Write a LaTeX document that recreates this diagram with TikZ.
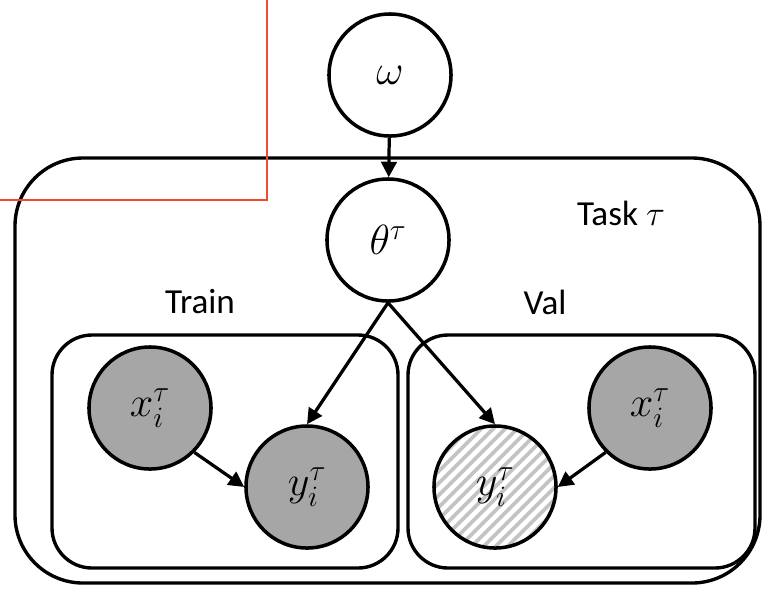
\RequirePackage{fix-cm}
\documentclass[tikz,border=0pt]{standalone}
\usepackage{fontspec}
\setmainfont{Carlito}
\usetikzlibrary{arrows.meta}
\definecolor{obsgray}{HTML}{A6A6A6}
\definecolor{hatchgray}{HTML}{C4C4C4}
\definecolor{markred}{RGB}{240,75,45}
\begin{document}
\begin{tikzpicture}[x=0.025cm,y=-0.025cm,
  var/.style={circle,draw,line width=2.5pt,minimum size=3.05cm,inner sep=0pt,
              font=\fontsize{30}{34}\selectfont},
  obs/.style={var,fill=obsgray},
  plate/.style={draw,line width=2.4pt},
  edge/.style={line width=2.3pt,-{Triangle[length=11pt,width=11pt]}},
  lbl/.style={font=\fontsize{25}{30}\selectfont}]
\useasboundingbox (0,0) rectangle (762,588);

% plates
\draw[plate,rounded corners=1.7cm] (15,158) rectangle (760,583);
\draw[plate,rounded corners=1cm] (52,335) rectangle (398,568);
\draw[plate,rounded corners=1cm] (408,335) rectangle (755,568);

% plate labels
\node[lbl] (ltask)  at (621,213) {Task $\tau$};
\node[lbl] (ltrain) at (200,302) {Train};
\node[lbl] (lval)   at (545,302) {Val};

% global and task parameters
\node[var] (w) at (390,75) {$\omega$};
\node[var] (t) at (388,240) {$\theta^{\tau}$};

% training data
\node[obs] (tx) at (150,408) {$x_i^{\tau}$};
\node[obs] (ty) at (307,487) {$y_i^{\tau}$};

% validation data (hatched target)
\coordinate (vyc) at (495,487);
\begin{scope}
  \clip (vyc) circle [radius=61];
  \foreach \k in {-156,-144,...,156}
    \draw[hatchgray,line width=2.6pt]
      ([shift={(\k-90,90)}]vyc) -- ([shift={(\k+90,-90)}]vyc);
\end{scope}
\node[var] (vy) at (vyc) {$y_i^{\tau}$};
\node[obs] (vx) at (650,408) {$x_i^{\tau}$};

% dependencies
\draw[edge] (w) -- (t);
\draw[edge] (t.south) -- (ty.north);
\draw[edge] (t.south) -- (vy.north);
\draw[edge] (tx.south east) -- (ty.west);
\draw[edge] (vx.south west) -- (vy.east);

% red marker lines
\draw[markred,line width=1.4pt] (267,-5) -- (267,200) -- (-5,200);
\end{tikzpicture}
\end{document}
